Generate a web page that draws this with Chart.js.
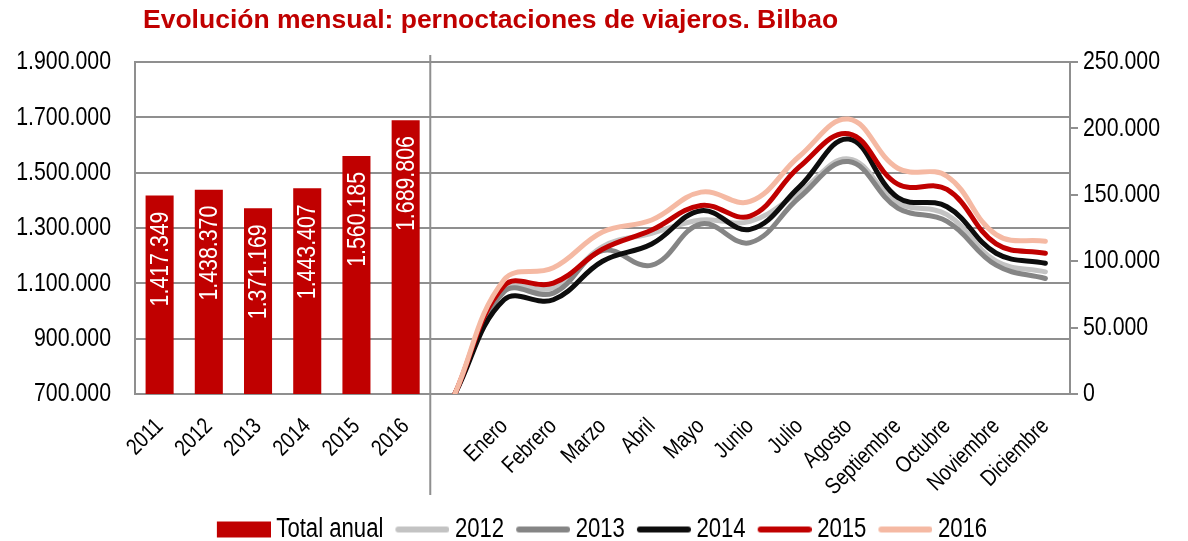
<!DOCTYPE html>
<html><head><meta charset="utf-8">
<script src="https://cdn.jsdelivr.net/npm/chart.js@4/dist/chart.umd.min.js"></script>
<style>html,body{margin:0;padding:0;background:#fff}#wrap{width:1188px;height:541px;position:relative}</style>
</head><body><div id="wrap"><canvas id="c"></canvas></div>
<script>
const TITLE = 'Evolución mensual: pernoctaciones de viajeros. Bilbao';
const years = ['2011', '2012', '2013', '2014', '2015', '2016'];
const months = ['', 'Enero', 'Febrero', 'Marzo', 'Abril', 'Mayo', 'Junio', 'Julio', 'Agosto', 'Septiembre', 'Octubre', 'Noviembre', 'Diciembre'];
const totalAnual = [1417349, 1438370, 1371169, 1443407, 1560185, 1689806];
const m2012 = [0, 79000, 80000, 111000, 121000, 131000, 130000, 152000, 177000, 144000, 135000, 100000, 92000];
const m2013 = [0, 77000, 76000, 108000, 97000, 128000, 114000, 148000, 175000, 140000, 130000, 97000, 87000];
const m2014 = [0, 71000, 71000, 100000, 113000, 138000, 124000, 156000, 192000, 148000, 141000, 106000, 98500];
const m2015 = [0, 81500, 83500, 109000, 123500, 142000, 134000, 171000, 196000, 158000, 154000, 113000, 106000];
const m2016 = [0, 86000, 95000, 122000, 131000, 152000, 145000, 179000, 207000, 170000, 164000, 120000, 115000];
const leftAxis = [700000, 1900000, 200000];
const rightAxis = [0, 250000, 50000];

// Arial Narrow is not installed: emulate it by condensing Liberation Sans horizontally.
const NARROW_SCALE = 0.82;
(function () {
  const P = CanvasRenderingContext2D.prototype;
  const fT = P.fillText, mT = P.measureText;
  const isN = ctx => /Arial Narrow/.test(ctx.font);
  P.fillText = function (t, x, y, maxW) {
    if (!isN(this)) return fT.apply(this, arguments);
    this.save(); this.translate(x, y); this.scale(NARROW_SCALE, 1);
    if (maxW === undefined) fT.call(this, t, 0, 0); else fT.call(this, t, 0, 0, maxW / NARROW_SCALE);
    this.restore();
  };
  P.measureText = function (t) {
    const m = mT.call(this, t);
    if (!isN(this)) return m;
    return {
      width: m.width * NARROW_SCALE,
      actualBoundingBoxAscent: m.actualBoundingBoxAscent, actualBoundingBoxDescent: m.actualBoundingBoxDescent,
      actualBoundingBoxLeft: m.actualBoundingBoxLeft * NARROW_SCALE, actualBoundingBoxRight: m.actualBoundingBoxRight * NARROW_SCALE,
      fontBoundingBoxAscent: m.fontBoundingBoxAscent, fontBoundingBoxDescent: m.fontBoundingBoxDescent
    };
  };
})();

const NARROW = "'Arial Narrow','Liberation Sans',Arial,sans-serif";
const GRID = '#8f8f8f';
const RED = '#c00000';
const fmt = v => String(Math.round(v)).replace(/\B(?=(\d{3})+(?!\d))/g, '.');

const labels = years.concat(months);
const padYears = years.map(() => null);
const padMonths = months.map(() => null);

function legendImg(kind, color) {
  const c = document.createElement('canvas');
  c.width = 62; c.height = 18;
  const g = c.getContext('2d');
  if (kind === 'box') { g.fillStyle = color; g.fillRect(8, 1, 54, 16); }
  else { g.strokeStyle = color; g.lineWidth = 6; g.lineCap = 'round'; g.beginPath(); g.moveTo(11, 9); g.lineTo(59, 9); g.stroke(); }
  return c;
}

function lineDs(label, data, color, order) {
  return {
    type: 'line', label, data: padYears.concat(data), yAxisID: 'y1',
    borderColor: color, backgroundColor: color, borderWidth: 5,
    borderCapStyle: 'round', borderJoinStyle: 'round',
    pointRadius: 0, pointHoverRadius: 0, tension: 0.4, fill: false, order
  };
}

const datasets = [
  { type: 'bar', label: 'Total anual', data: totalAnual.concat(padMonths), yAxisID: 'y',
    backgroundColor: RED, borderWidth: 0, barPercentage: 0.57, categoryPercentage: 1.0, order: 10 },
  lineDs('2012', m2012, '#c3c3c3', 5),
  lineDs('2013', m2013, '#858585', 4),
  lineDs('2014', m2014, '#0d0d0d', 3),
  lineDs('2015', m2015, '#c00000', 2),
  lineDs('2016', m2016, '#f5b9a3', 1)
];
const legendKinds = ['box', 'line', 'line', 'line', 'line', 'line'];

const barLabels = {
  id: 'barLabels',
  afterDatasetsDraw(chart) {
    const meta = chart.getDatasetMeta(0);
    const ctx = chart.ctx;
    ctx.save();
    ctx.fillStyle = '#fff'; ctx.font = '26px ' + NARROW; ctx.textAlign = 'right'; ctx.textBaseline = 'middle';
    meta.data.forEach((el, i) => {
      const v = chart.data.datasets[0].data[i];
      if (v == null) return;
      ctx.save(); ctx.translate(el.x, el.y + 16); ctx.rotate(-Math.PI / 2); ctx.fillText(fmt(v), 0, 1); ctx.restore();
    });
    ctx.restore();
  }
};

const decor = {
  id: 'decor',
  afterDraw(chart) {
    const ctx = chart.ctx, xs = chart.scales.x, area = chart.chartArea;
    const sx = (xs.getPixelForValue(years.length - 1) + xs.getPixelForValue(years.length)) / 2;
    ctx.save();
    ctx.strokeStyle = GRID; ctx.lineWidth = 2;
    ctx.beginPath(); ctx.moveTo(sx, area.top - 7); ctx.lineTo(sx, area.bottom + 101); ctx.stroke();
    ctx.fillStyle = RED; ctx.font = 'bold 26.5px "Liberation Sans",Arial,sans-serif';
    ctx.textAlign = 'left'; ctx.textBaseline = 'alphabetic';
    ctx.fillText(TITLE, 143, 28);
    ctx.restore();
  }
};

new Chart(document.getElementById('c'), {
  type: 'bar',
  data: { labels, datasets },
  plugins: [barLabels, decor],
  options: {
    responsive: true, maintainAspectRatio: false, animation: false,
    layout: { padding: { left: 16, right: 0, top: 62, bottom: -12 } },
    plugins: {
      tooltip: { enabled: false },
      title: { display: false },
      legend: {
        position: 'bottom',
        labels: {
          usePointStyle: true, pointStyleWidth: 46, padding: 12, color: '#000',
          font: { size: 27, family: NARROW },
          generateLabels: chart => chart.data.datasets.map((ds, i) => ({
            text: ds.label, pointStyle: legendImg(legendKinds[i], ds.type === 'bar' ? ds.backgroundColor : ds.borderColor),
            fillStyle: 'transparent', strokeStyle: 'transparent', lineWidth: 0, hidden: false, datasetIndex: i, fontColor: '#000'
          }))
        }
      }
    },
    scales: {
      x: {
        offset: true,
        grid: { display: false, drawTicks: false },
        border: { display: false },
        ticks: { autoSkip: false, minRotation: 45, maxRotation: 45, padding: 19, color: '#000', font: { size: 23, family: NARROW } },
        afterFit: s => { s.height = 110; }
      },
      y: {
        position: 'left', min: leftAxis[0], max: leftAxis[1],
        grid: { color: GRID, lineWidth: 2, drawTicks: false },
        border: { display: true, color: GRID, width: 2 },
        ticks: { stepSize: leftAxis[2], padding: 24, color: '#000', font: { size: 26, family: NARROW }, callback: v => fmt(v) },
        afterFit: s => { s.width = 119; }
      },
      y1: {
        position: 'right', min: rightAxis[0], max: rightAxis[1],
        grid: { drawOnChartArea: false, drawTicks: true, tickLength: 8, color: GRID, lineWidth: 2 },
        border: { display: true, color: GRID, width: 2 },
        ticks: { stepSize: rightAxis[2], padding: 5, color: '#000', font: { size: 26, family: NARROW }, callback: v => fmt(v) },
        afterFit: s => { s.width = 118; }
      }
    }
  }
});
</script>
</body></html>
